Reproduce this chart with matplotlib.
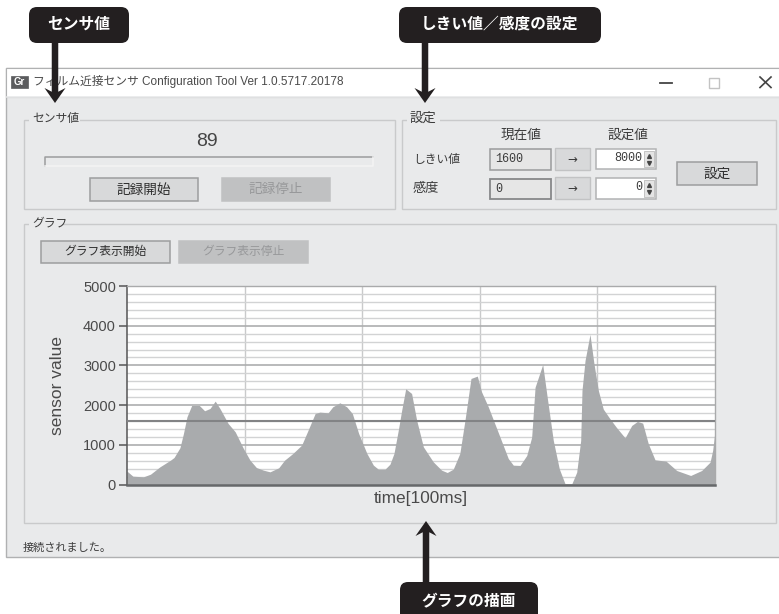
import matplotlib
matplotlib.use('Agg')
import matplotlib.pyplot as plt
from matplotlib.patches import Rectangle, FancyBboxPatch
from matplotlib.ticker import MultipleLocator

plt.rcParams['font.family'] = ['Liberation Sans', 'Noto Sans CJK JP', 'DejaVu Sans']

# x is sample number on a 0..500 axis
time_idx = [0, 5, 14, 20, 28, 37, 40, 45, 48, 51, 55, 61.5, 66, 70.6, 75, 79, 86, 92, 99, 104.6,
            110, 116, 121.6, 129, 134, 141, 148.5, 154, 160, 164, 171, 175, 181, 186.8, 191.6,
            197, 204, 209.5, 213.7, 219.4, 223.6, 227, 230.7, 233.6, 237, 242, 246.3, 252, 260.4,
            267.5, 272.3, 277.4, 283, 287.4, 292.5, 297.9, 301.5, 307.2, 317.1, 324.2, 328.5,
            334.2, 339.9, 344.1, 347, 353.5, 356.9, 362.5, 367.6, 372.5, 378, 382.4, 385.8, 386.9,
            389.5, 393.7, 397.1, 400.8, 405, 410.7, 416.4, 423.5, 429.2, 434, 438.5, 443.3, 449,
            458.4, 467.4, 479.3, 488.7, 495.8, 498, 500]
sensor = [336, 210, 193, 260, 445, 613, 680, 924, 1285, 1705, 1990, 1990, 1857, 1915, 2100, 1915,
          1537, 1327, 907, 613, 428, 361, 319, 420, 613, 781, 991, 1369, 1789, 1823, 1806, 1957,
          2058, 1957, 1789, 1285, 781, 487, 386, 386, 512, 781, 1369, 1873, 2411, 2293, 1621, 949,
          571, 361, 302, 386, 781, 1621, 2671, 2730, 2335, 1957, 1201, 655, 487,
          480, 730, 1190, 2450, 3024, 2285, 1110, 395, 17, 0, 310, 1110, 2370,
          3125, 3780, 3040, 2370, 1900, 1655, 1430, 1176, 1487, 1588, 1546, 1025, 622,
          588, 353, 227, 353, 563, 857, 1344]
threshold = 1600
y_ticks = [0, 1000, 2000, 3000, 4000, 5000]
x_grid = [100, 200, 300, 400]

W, H = 779, 614
BG = '#e9eaeb'
TXT = '#3c3c3c'

fig = plt.figure(figsize=(W / 100, H / 100), dpi=100, facecolor='white')

# whole-figure axes in pixel units for the window furniture
ui = fig.add_axes([0, 0, 1, 1])
ui.set_xlim(0, W)
ui.set_ylim(H, 0)
ui.axis('off')


def box(x0, y0, x1, y1, fc='none', ec='#c9cacb', lw=1.0, z=2):
    ui.add_patch(Rectangle((x0, y0), x1 - x0, y1 - y0, fc=fc, ec=ec, lw=lw, zorder=z))


def label(x, y, s, size=8.5, color=TXT, ha='center', **kw):
    ui.text(x, y, s, fontsize=size, color=color, ha=ha, va='center', zorder=5, **kw)


def group(x0, y0, x1, y1, title, tx0, tx1, size=8.5):
    box(x0, y0, x1, y1)
    ui.add_patch(Rectangle((tx0 - 3, y0 - 3), tx1 - tx0 + 6, 6, fc=BG, ec='none', zorder=3))
    label(tx0, y0 - 1, title, ha='left', size=size)


def button(x0, y0, x1, y1, s, enabled=True, size=9.8):
    if enabled:
        box(x0, y0, x1, y1, fc='#d8d9da', ec='#9d9e9f', lw=1.1)
        label((x0 + x1) / 2, (y0 + y1) / 2, s, color='#2e2e2e', size=size)
    else:
        box(x0, y0, x1, y1, fc='#c0c1c2', ec='#c0c1c2', lw=1.1)
        label((x0 + x1) / 2, (y0 + y1) / 2, s, color='#97989a', size=size)


def spinner(x0, y0, x1, y1, s):
    box(x0, y0, x1, y1, fc='white', ec='#b2b3b4', lw=1.1)
    label(x1 - 14, (y0 + y1) / 2 - 1, s, ha='right', family=['Liberation Mono', 'DejaVu Sans'], size=8.5)
    box(x1 - 12, y0 + 2, x1 - 2, y1 - 2, fc='#e4e4e4', ec='#bcbcbc', lw=0.6)
    ui.plot([x1 - 7], [(y0 + y1) / 2 - 3.5], marker='^', ms=2.8, color='#444444', zorder=6)
    ui.plot([x1 - 7], [(y0 + y1) / 2 + 3.5], marker='v', ms=2.8, color='#444444', zorder=6)


def callout(x0, x1, y0, y1, s, tx, tip, arrow_from):
    ui.arrow(tx, arrow_from, 0, tip - arrow_from, width=6.5, head_width=21, head_length=15, overhang=0.25,
             length_includes_head=True, fc='#231f20', ec='none', zorder=8)
    ui.add_patch(FancyBboxPatch((x0 + 8, y0 + 8), x1 - x0 - 16, y1 - y0 - 16,
                                boxstyle='round,pad=8,rounding_size=8', fc='#231f20', ec='none', zorder=9,
                                clip_on=True))
    ui.text((x0 + x1) / 2, (y0 + y1) / 2 - 0.5, s, fontsize=11.3, fontweight='bold', color='white',
            ha='center', va='center', zorder=10)


# window
box(6.5, 68, W + 5, 557, fc=BG, ec='#b0b1b2', lw=1.0, z=1)
box(6.5, 68, W + 5, 97, fc='white', ec='#b0b1b2', lw=0.8, z=1)
ui.plot([7, W], [97, 97], color=BG, lw=1.2, zorder=2)
box(11, 76, 28, 88, fc='#5b5c5e', ec='#5b5c5e', lw=0.5)
label(19.5, 82, 'Gr', size=7, color='white', fontweight='bold')
label(33, 82, 'フィルム近接センサ Configuration Tool Ver 1.0.5717.20178', size=8.5, ha='left', color='#4a4a4a')
ui.plot([660, 672], [83, 83], color='#444444', lw=1.3, zorder=4)
box(709.5, 77.5, 719.5, 87.5, ec='#c3c3c3', lw=1.0)
ui.plot([760, 771], [77, 87.5], color='#444444', lw=1.2, zorder=4)
ui.plot([760, 771], [87.5, 77], color='#444444', lw=1.2, zorder=4)

# sensor group
group(24, 120, 395, 209, 'センサ値', 32, 77)
label(207, 142, '89', size=14, color='#454545')
ui.plot([45, 45, 373], [166, 157, 157], color='#9c9d9e', lw=1.1, zorder=4)
ui.plot([45, 373, 373], [166, 166, 157], color='#f4f4f4', lw=1.1, zorder=4)
button(90, 178, 198, 201, '記録開始')
button(222, 178, 330, 201, '記録停止', enabled=False)

# settings group
group(402, 120, 776, 209, '設定', 410, 437, size=9.6)
label(521, 135, '現在値', size=9.8)
label(628, 135, '設定値', size=9.8)
label(413, 160, 'しきい値', ha='left')
label(413, 189, '感度', ha='left', size=9.5)
box(490.5, 149, 551, 170, fc='#e6e6e6', ec='#9a9b9c', lw=1.1)
label(495, 159.5, '1600', ha='left', family=['Liberation Mono', 'DejaVu Sans'], size=8.5)
box(490.5, 178.5, 551, 199, fc='#e6e6e6', ec='#87888a', lw=1.3)
label(495, 188.5, '0', ha='left', family=['Liberation Mono', 'DejaVu Sans'], size=8.5)
for y0, y1 in [(148, 170), (177, 199)]:
    box(555, y0, 590, y1, fc='#d8d9da', ec='#c2c3c4', lw=1.0)
    label(572.5, (y0 + y1) / 2, '→', size=8.5, family=['DejaVu Sans'])
spinner(596, 149, 656, 169, '8000')
spinner(596, 178, 656, 199, '0')
button(677, 162, 757, 185, '設定')

# graph group
group(24, 224, 776, 523, 'グラフ', 32, 59)
button(41, 241, 170, 263, 'グラフ表示開始', size=8.5)
button(179, 241, 308, 263, 'グラフ表示停止', enabled=False, size=8.5)

label(23, 548, '接続されました。', ha='left', size=8)

callout(29, 129, 7, 43, 'センサ値', 55, 103, 40)
callout(399, 601, 7, 43, 'しきい値／感度の設定', 425, 103, 40)
callout(400, 538, 582, 622, 'グラフの描画', 426, 521, 585)

# the chart itself
ax = fig.add_axes([127 / W, 1 - 484.5 / H, (715 - 127) / W, (484.5 - 286) / H], facecolor='white')
ax.set_xlim(0, 500)
ax.set_ylim(0, 5000)
ax.yaxis.set_minor_locator(MultipleLocator(200))
ax.set_yticks(y_ticks)
ax.set_xticks(x_grid)
ax.tick_params(axis='x', length=0, labelbottom=False)
ax.tick_params(axis='y', which='major', length=6, width=1.1, color='#555555', labelsize=10.5,
               labelcolor='#4a4a4a', pad=2)
ax.tick_params(axis='y', which='minor', length=0)
ax.grid(axis='y', which='minor', color='#d2d3d4', lw=1.0, zorder=1)
ax.grid(axis='y', which='major', color='#adaeaf', lw=1.2, zorder=1)
ax.grid(axis='x', which='major', color='#c9cacb', lw=1.0, zorder=1)
ax.set_axisbelow(True)
ax.fill_between(time_idx, sensor, 0, color='#a9abad', lw=0, zorder=2)
ax.axhline(threshold, color='#828385', lw=1.5, zorder=3)
ax.set_xlabel('time[100ms]', fontsize=12.4, color='#4a4a4a', labelpad=5)
ax.set_ylabel('sensor value', fontsize=12.5, color='#4a4a4a', labelpad=13)
for side, sp in ax.spines.items():
    sp.set_color('#a9aaab')
    sp.set_linewidth(1.0)
ax.spines['left'].set_color('#555555')
ax.spines['left'].set_linewidth(1.1)
ax.spines['bottom'].set_color('#66686a')
ax.spines['bottom'].set_linewidth(1.8)

fig.savefig('out.png', dpi=100)
